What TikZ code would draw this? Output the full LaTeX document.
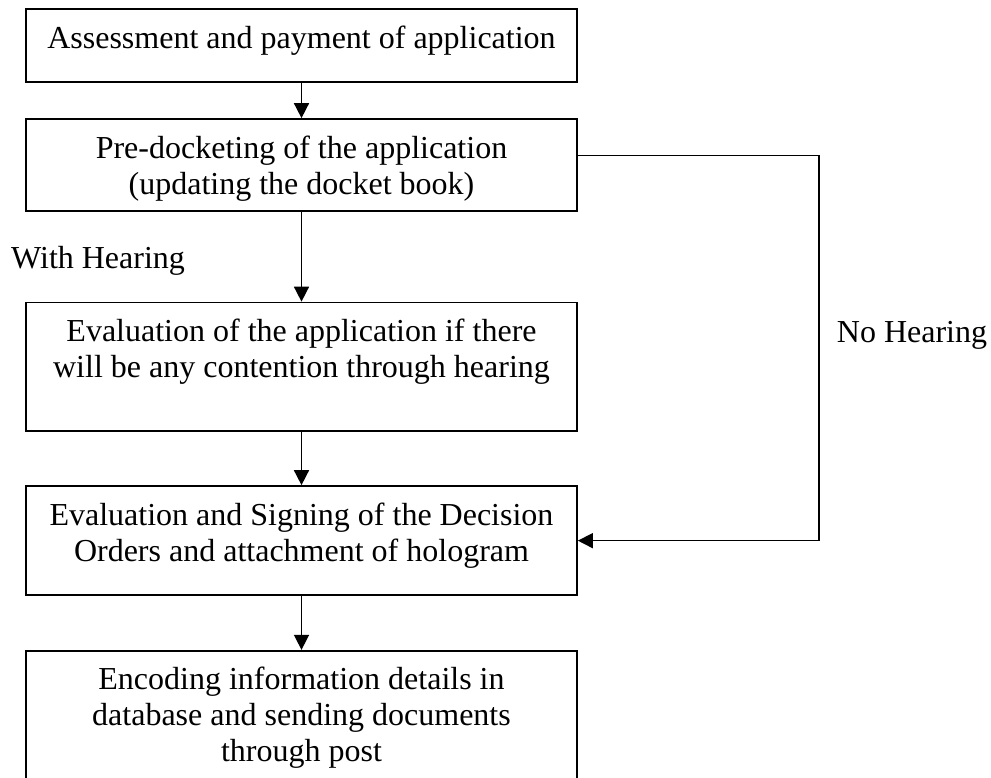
\documentclass[tikz,border=0pt]{standalone}
\usepackage{fontspec}
\setmainfont{Liberation Serif}
\usetikzlibrary{arrows.meta}
% body of a process box: fixed size, text set from the top
\newcommand{\stepbody}[2]{\parbox[c][#1][t]{551pt}{\centering\vspace*{13.8pt}#2\par}}
\tikzset{
  stepbox/.style={draw=black, line width=1.7pt, inner sep=0pt, fill=white},
  flow/.style={draw=black, line width=1.6pt, -{Triangle[length=15pt,width=15pt]}},
  note/.style={inner sep=0pt, anchor=base west},
}
\begin{document}
\begin{tikzpicture}[x=1pt, y=-1pt, font=\fontsize{32}{36}\selectfont]
\clip (0,0) rectangle (991,777);
\fill[white] (0,0) rectangle (991,777);

\node[stepbox] (assess) at (301.5,45.8)
  {\stepbody{73pt}{\strut Assessment and payment of application}};
\node[stepbox] (pre) at (301.5,164.85)
  {\stepbody{91.7pt}{\strut Pre-docketing of the application\\\strut (updating the docket book)}};
\node[stepbox] (eval) at (301.5,366.6)
  {\stepbody{128.2pt}{\strut Evaluation of the application if there\\\strut will be any contention through hearing}};
\node[stepbox] (decide) at (301.5,540.65)
  {\stepbody{109.3pt}{\strut Evaluation and Signing of the Decision\\\strut Orders and attachment of hologram}};
\node[stepbox] (encode) at (301.5,725.7)
  {\stepbody{150pt}{\strut Encoding information details in\\\strut database and sending documents\\\strut through post}};

\node[note] (with) at (11,268) {With Hearing};
\node[note] (nohear) at (836.7,342.3) {No Hearing};

\draw[flow] (assess) -- (pre);
\draw[flow] (pre) -- (eval);
\draw[flow] (eval) -- (decide);
\draw[flow] (decide) -- (encode);
\draw[flow] ([yshift=9.3pt]pre.east) -- ++(241,0) |- (decide.east);
\end{tikzpicture}
\end{document}
